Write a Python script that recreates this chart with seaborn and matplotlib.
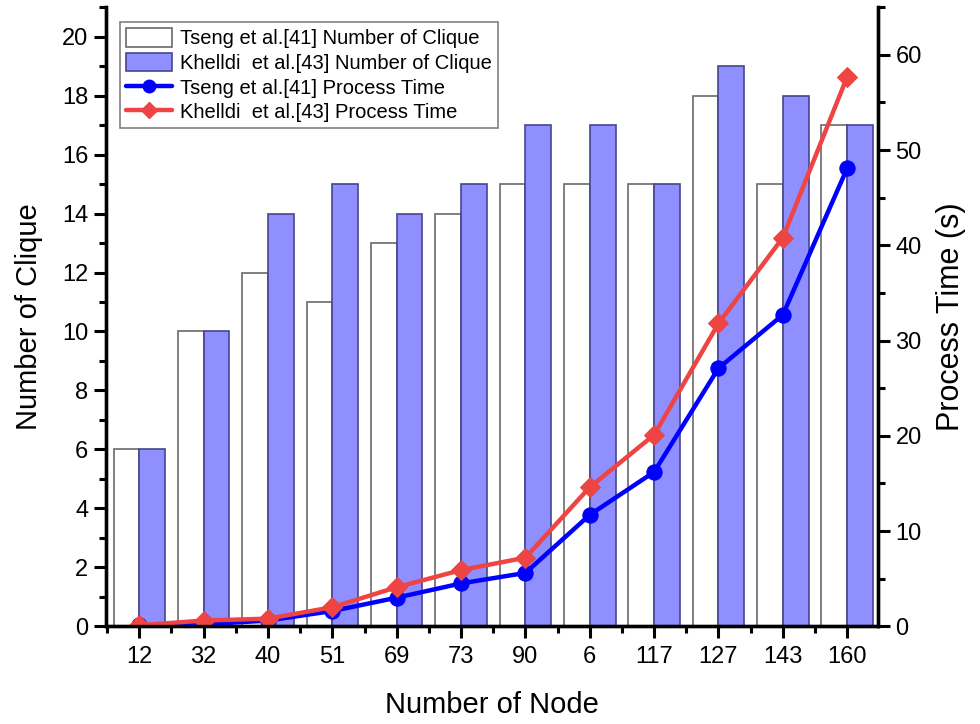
import numpy as np
import pandas as pd
import matplotlib
matplotlib.use("Agg")
import matplotlib.pyplot as plt
import seaborn as sns
from matplotlib.ticker import MultipleLocator
from matplotlib.patches import Patch
from matplotlib.lines import Line2D

# data
nodes = ["12", "32", "40", "51", "69", "73", "90", "6", "117", "127", "143", "160"]
tseng_clique = [6, 10, 12, 11, 13, 14, 15, 15, 15, 18, 15, 17]
khelldi_clique = [6, 10, 14, 15, 14, 15, 17, 17, 15, 19, 18, 17]
tseng_time = [0.1, 0.2, 0.6, 1.6, 3.0, 4.5, 5.6, 11.7, 16.2, 27.1, 32.7, 48.1]
khelldi_time = [0.1, 0.6, 0.8, 2.0, 4.1, 5.9, 7.2, 14.6, 20.1, 31.8, 40.8, 57.7]

lbl_t_bar = "Tseng et al.[41] Number of Clique"
lbl_k_bar = "Khelldi  et al.[43] Number of Clique"
lbl_t_line = "Tseng et al.[41] Process Time"
lbl_k_line = "Khelldi  et al.[43] Process Time"

bar_df = pd.DataFrame({
    "node": nodes * 2,
    "clique": tseng_clique + khelldi_clique,
    "method": [lbl_t_bar] * len(nodes) + [lbl_k_bar] * len(nodes),
})
pos = np.arange(len(nodes))

sns.set_style("ticks")
plt.rcParams["font.family"] = ["Liberation Sans", "DejaVu Sans"]
plt.rcParams["text.color"] = "black"
plt.rcParams["axes.labelcolor"] = "black"
plt.rcParams["xtick.color"] = "black"
plt.rcParams["ytick.color"] = "black"

fig = plt.figure(figsize=(9.8, 7.24), dpi=100)
ax = fig.add_axes([0.108, 0.135, 0.788, 0.855])

sns.barplot(data=bar_df, x="node", y="clique", hue="method", order=nodes,
            palette=["#FFFFFF", "#8F8FFF"], width=0.8, ax=ax, legend=False,
            saturation=1)
n = len(nodes)
for i, p in enumerate(ax.patches):
    p.set_edgecolor("#6A6A6A" if i < n else "#45458F")
    p.set_linewidth(1.2)

ax2 = ax.twinx()
sns.lineplot(x=pos, y=tseng_time, color="#0000FF", marker="o", markersize=11,
             markeredgecolor="#0000FF", linewidth=3.2, ax=ax2)
sns.lineplot(x=pos, y=khelldi_time, color="#EE4444", marker="D", markersize=10,
             markeredgecolor="#EE4444", linewidth=3.2, ax=ax2)

ax.set_xlim(-0.52, 11.48)
ax.set_ylim(0, 21)
ax2.set_ylim(0, 65)

ax.yaxis.set_major_locator(MultipleLocator(2))
ax.yaxis.set_minor_locator(MultipleLocator(1))
ax2.yaxis.set_major_locator(MultipleLocator(10))
ax2.yaxis.set_minor_locator(MultipleLocator(5))
ax.set_xticks(pos)
ax.set_xticklabels(nodes)
ax.xaxis.set_minor_locator(MultipleLocator(1, offset=0.5))

for a in (ax, ax2):
    for s in a.spines.values():
        s.set_linewidth(2.4)
        s.set_color("black")
    a.spines["top"].set_visible(False)
    a.tick_params(which="major", direction="out", length=8.5, width=2.2,
                  labelsize=17, pad=4, colors="black")
    a.tick_params(which="minor", direction="out", length=5, width=2.2,
                  colors="black")
ax.tick_params(axis="x", which="major", pad=6)

ax.set_xlabel("Number of Node", fontsize=21, labelpad=16)
ax.set_ylabel("Number of Clique", fontsize=21, labelpad=14)
ax2.set_ylabel("Process Time (s)", fontsize=22, labelpad=10)

# legend combining bars and lines
handles = [
    Patch(facecolor="#FFFFFF", edgecolor="#6A6A6A", linewidth=1.2),
    Patch(facecolor="#8F8FFF", edgecolor="#45458F", linewidth=1.2),
    Line2D([], [], color="#0000FF", marker="o", markersize=9, linewidth=3.2),
    Line2D([], [], color="#EE4444", marker="D", markersize=8, linewidth=3.2),
]
leg = ax2.legend(handles, [lbl_t_bar, lbl_k_bar, lbl_t_line, lbl_k_line],
                 loc="upper left", bbox_to_anchor=(0.018, 0.976),
                 fontsize=14.5, frameon=True, fancybox=False,
                 edgecolor="#808080", framealpha=1, borderpad=0.3,
                 handlelength=2.3, handleheight=1.05, handletextpad=0.4,
                 labelspacing=0.22, borderaxespad=0)
leg.get_frame().set_linewidth(1.2)

fig.savefig("out.png", dpi=100)
